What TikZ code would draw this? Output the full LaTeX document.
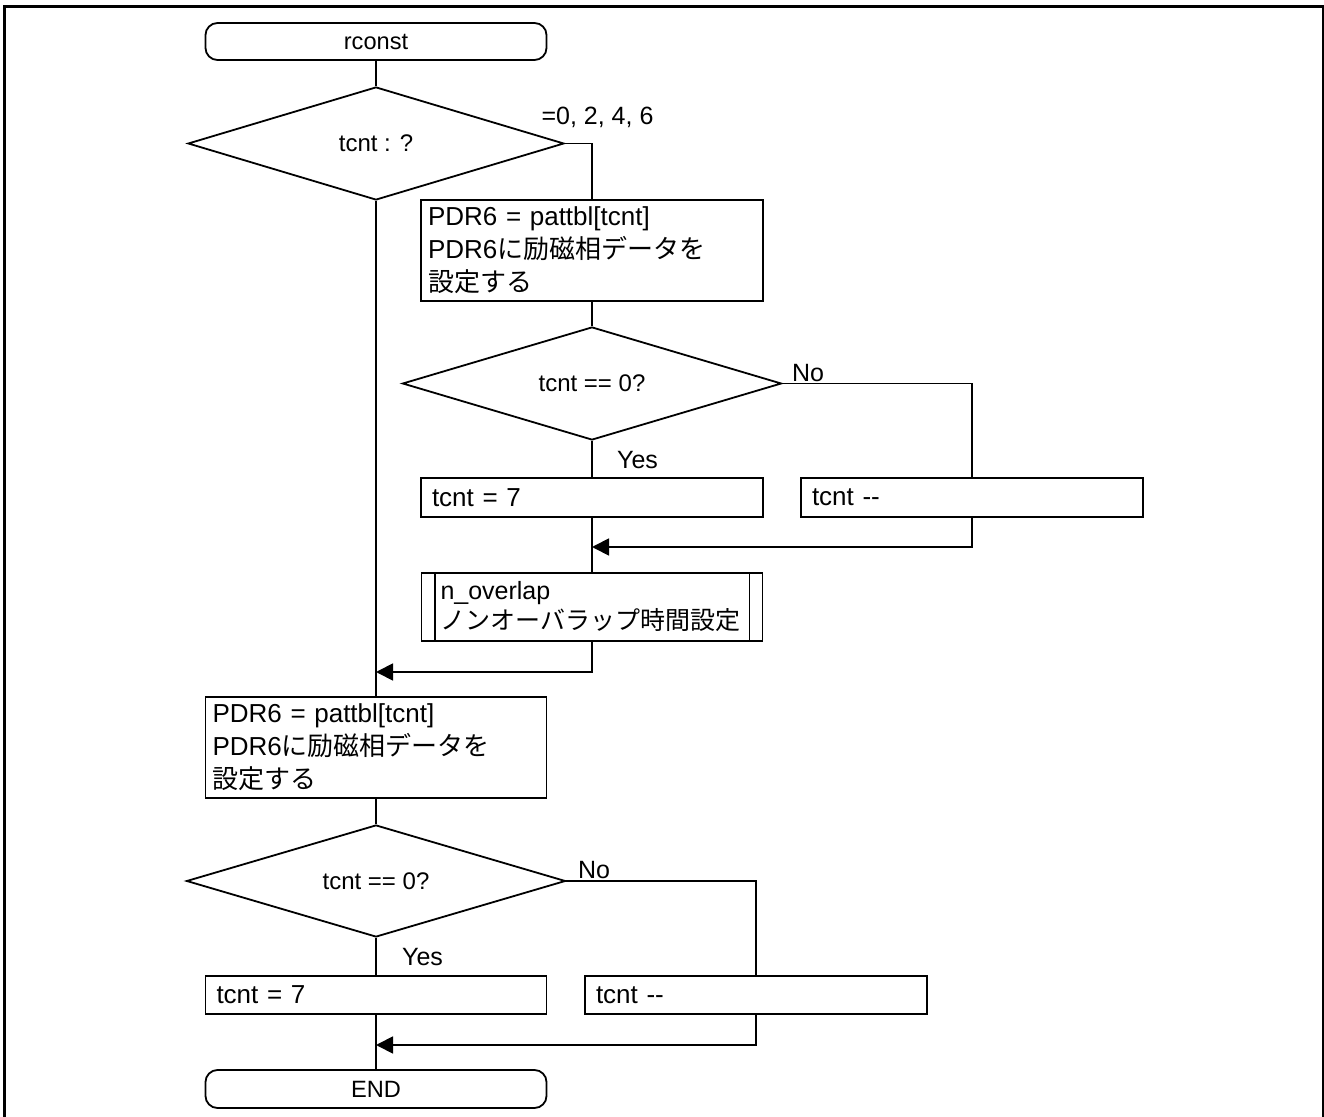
\documentclass[tikz,border=0pt]{standalone}
\usepackage{fontspec}
\setmainfont{Liberation Sans}
\newfontfamily\jp{Noto Sans CJK JP}
\usetikzlibrary{shapes.geometric,arrows.meta}
\begin{document}
\begin{tikzpicture}[x=0.5pt,y=-0.5pt,line width=0.9pt,
  term/.style={draw,rounded corners=6pt,minimum width=170.5pt,minimum height=18.5pt,inner sep=0pt,font=\fontsize{11.8}{14}\selectfont},
  dec/.style={draw,diamond,shape aspect=3.35,inner sep=0pt,font=\fontsize{12}{14}\selectfont},
  proc/.style={draw,rectangle,inner ysep=0pt,align=left,font=\fontsize{13}{16.5}\selectfont},
  lbl/.style={inner sep=0pt,anchor=base,font=\fontsize{12.5}{15}\selectfont},
  arr/.style={-{Triangle[length=8.5pt,width=8.5pt]}}]
\useasboundingbox (0,0) rectangle (1324,1117);
% outer frame
\draw[line width=1.2pt] (4.7,1117) -- (4.7,6.5) -- (1322.7,6.5) -- (1322.7,1117);

% nodes
\node[term] (start) at (376,41.5) {rconst};
\node[dec,minimum width=188pt,minimum height=56.5pt] (d1) at (376,143.5) {tcnt : ?};
\node[lbl] (case) at (597.5,125) {=0, 2, 4, 6};
\node[proc,inner xsep=3.5pt,text width=164pt,minimum height=50.5pt] (b1) at (592,250.5)
  {PDR6 = pattbl[tcnt]\\PDR6{\jp に励磁相データを}\\{\jp 設定する}};
\node[dec,minimum width=189.5pt,minimum height=56.5pt] (d2) at (592,383.5) {tcnt == 0?};
\node[lbl] (no1) at (808,382) {No};
\node[lbl] (yes1) at (637.5,469) {Yes};
\node[proc,inner xsep=5.5pt,text width=160pt,minimum height=19.5pt] (b2) at (592,497.5) {tcnt = 7};
\node[proc,inner xsep=5.5pt,text width=160pt,minimum height=19.5pt] (b3) at (972,497.5) {tcnt -\kern0pt-};
\coordinate (m1) at (592,547);
\node[proc,inner xsep=9.5pt,text width=151.5pt,minimum height=34pt,font=\fontsize{12.5}{15}\selectfont] (sub) at (592,607)
  {n\_overlap\\{\jp ノンオーバラップ時間設定}};
\draw ([xshift=7pt]sub.north west) -- ([xshift=7pt]sub.south west);
\draw ([xshift=-7pt]sub.north east) -- ([xshift=-7pt]sub.south east);
\coordinate (m2) at (376,672);
\node[proc,inner xsep=3.5pt,text width=163.5pt,minimum height=50.5pt] (b4) at (376,747.5)
  {PDR6 = pattbl[tcnt]\\PDR6{\jp に励磁相データを}\\{\jp 設定する}};
\node[dec,minimum width=189.5pt,minimum height=56pt] (d3) at (376,881) {tcnt == 0?};
\node[lbl] (no2) at (594,878) {No};
\node[lbl] (yes2) at (422.5,965) {Yes};
\node[proc,inner xsep=5.5pt,text width=159.5pt,minimum height=19pt] (b5) at (376,995) {tcnt = 7};
\node[proc,inner xsep=5.5pt,text width=160pt,minimum height=19pt] (b6) at (756,995) {tcnt -\kern0pt-};
\coordinate (m3) at (376,1045);
\node[term,minimum height=19pt] (end) at (376,1089) {END};

% connectors
\draw (start) -- (d1);
\draw (d1.east) -| (b1.north);
\draw (b1) -- (d2);
\draw (d2.south) -- (b2.north);
\draw (d2.east) -| (b3.north);
\draw (b2.south) -- (sub.north);
\draw[arr] (b3.south) |- (m1);
\draw[arr] (sub.south) |- (m2);
\draw (d1.south) -- (b4.north);
\draw (b4) -- (d3);
\draw (d3.south) -- (b5.north);
\draw (d3.east) -| (b6.north);
\draw (b5.south) -- (end.north);
\draw[arr] (b6.south) |- (m3);
\end{tikzpicture}
\end{document}
